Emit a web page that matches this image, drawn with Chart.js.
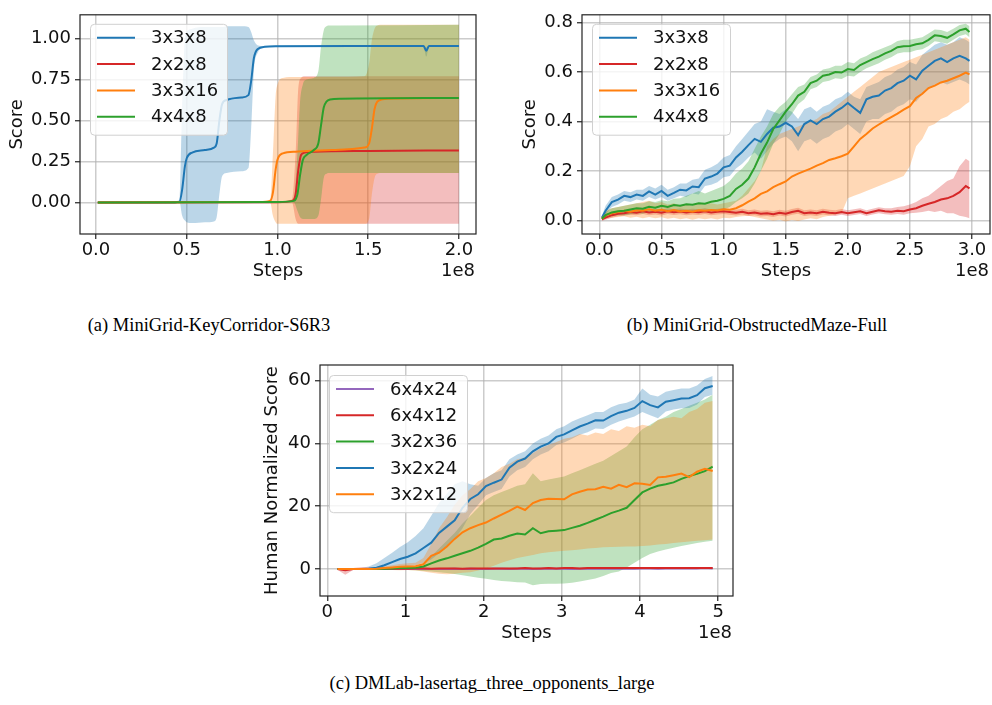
<!DOCTYPE html>
<html>
<head>
<meta charset="utf-8">
<script src="https://cdn.jsdelivr.net/npm/chart.js@4.4.1/dist/chart.umd.min.js"></script>
<style>
  body { margin: 0; background: #fff; width: 992px; height: 705px; position: relative; overflow: hidden; }
  canvas { position: absolute; }
  .cap { position: absolute; font-family: "Liberation Serif", "Times New Roman", serif; font-size: 18.5px;
         color: #000; transform: translateX(-50%); white-space: nowrap; line-height: 20px; }
</style>
</head>
<body>
<canvas id="ca" width="492" height="290" style="left:0;top:0"></canvas>
<canvas id="cb" width="492" height="290" style="left:500px;top:0"></canvas>
<canvas id="cc" width="492" height="310" style="left:250px;top:340px"></canvas>
<div class="cap" style="left:209px;top:315px">(a) MiniGrid-KeyCorridor-S6R3</div>
<div class="cap" style="left:757px;top:315px">(b) MiniGrid-ObstructedMaze-Full</div>
<div class="cap" style="left:492px;top:673px">(c) DMLab-lasertag_three_opponents_large</div>
<script>
"use strict";
// matplotlib tab10 colours
const C_BLUE = "#1f77b4";
const C_ORANGE = "#ff7f0e";
const C_GREEN = "#2ca02c";
const C_RED = "#d62728";
const C_PURPLE = "#9467bd";
const FONT = '"DejaVu Sans", Verdana, sans-serif';

// ---- (a) KeyCorridor-S6R3, steps in 1e8 ----
const A_LABELS = ["3x3x8", "2x2x8", "3x3x16", "4x4x8"];
const A_XTICKS = [0, 0.5, 1, 1.5, 2];
const A_XLABELS = ["0.0", "0.5", "1.0", "1.5", "2.0"];
const A_YTICKS = [0, 0.25, 0.5, 0.75, 1];
const A_YLABELS = ["0.00", "0.25", "0.50", "0.75", "1.00"];

const A_BLUE_X = [0.01, 0.40, 0.46, 0.475, 0.49, 0.50, 0.53, 0.60, 0.65, 0.665, 0.68, 0.695, 0.72, 0.80, 0.84, 0.855, 0.87, 0.89, 0.93, 1.00, 1.50, 1.805, 1.82, 1.835, 2.00];
const A_BLUE = [0, 0, 0.005, 0.08, 0.22, 0.27, 0.305, 0.32, 0.335, 0.36, 0.50, 0.60, 0.625, 0.64, 0.655, 0.74, 0.88, 0.935, 0.95, 0.953, 0.955, 0.955, 0.925, 0.955, 0.955];
const A_BLUE_HI = [0, 0, 0.005, 0.6, 1.0, 1.04, 1.06, 1.07, 1.07, 1.07, 1.07, 1.07, 1.075, 1.075, 1.07, 1.04, 0.99, 0.96, 0.955, 0.957, 0.957, 0.957, 0.945, 0.957, 0.957];
const A_BLUE_LO = [0, 0, 0.005, -0.08, -0.11, -0.12, -0.125, -0.12, -0.115, -0.09, 0.05, 0.16, 0.18, 0.19, 0.21, 0.45, 0.8, 0.91, 0.945, 0.95, 0.953, 0.953, 0.89, 0.953, 0.953];

const A_RED_X = [0.01, 1.00, 1.08, 1.10, 1.115, 1.13, 1.15, 1.20, 1.50, 2.00];
const A_RED = [0, 0.002, 0.01, 0.05, 0.2, 0.29, 0.305, 0.31, 0.315, 0.318];
const A_RED_HI = [0, 0.005, 0.02, 0.3, 0.7, 0.76, 0.77, 0.77, 0.77, 0.77];
const A_RED_LO = [0, 0, 0, -0.1, -0.13, -0.13, -0.13, -0.13, -0.13, -0.13];

const A_ORANGE_X = [0.01, 0.90, 0.96, 0.975, 0.99, 1.00, 1.03, 1.10, 1.30, 1.48, 1.505, 1.52, 1.535, 1.55, 1.58, 1.65, 2.00];
const A_ORANGE = [0, 0.003, 0.01, 0.06, 0.2, 0.26, 0.3, 0.31, 0.32, 0.335, 0.36, 0.45, 0.57, 0.615, 0.63, 0.635, 0.638];
const A_ORANGE_HI = [0, 0.005, 0.02, 0.3, 0.65, 0.72, 0.76, 0.765, 0.765, 0.77, 0.85, 0.99, 1.06, 1.08, 1.085, 1.085, 1.085];
const A_ORANGE_LO = [0, 0, 0, -0.08, -0.12, -0.13, -0.13, -0.13, -0.13, -0.13, -0.1, 0.05, 0.15, 0.175, 0.18, 0.18, 0.18];

const A_GREEN_X = [0.01, 1.00, 1.09, 1.11, 1.125, 1.14, 1.16, 1.20, 1.225, 1.24, 1.255, 1.27, 1.29, 1.35, 2.00];
const A_GREEN = [0, 0.003, 0.01, 0.05, 0.17, 0.26, 0.29, 0.32, 0.36, 0.47, 0.58, 0.615, 0.628, 0.633, 0.638];
const A_GREEN_HI = [0, 0.005, 0.02, 0.3, 0.62, 0.72, 0.75, 0.76, 0.8, 0.95, 1.05, 1.075, 1.08, 1.08, 1.085];
const A_GREEN_LO = [0, 0, 0, -0.05, -0.09, -0.1, -0.1, -0.1, -0.08, 0.02, 0.15, 0.175, 0.18, 0.18, 0.18];

// ---- (b) ObstructedMaze-Full ----
const B_LABELS = ["3x3x8", "2x2x8", "3x3x16", "4x4x8"];
const B_XTICKS = [0, 0.5, 1, 1.5, 2, 2.5, 3];
const B_XLABELS = ["0.0", "0.5", "1.0", "1.5", "2.0", "2.5", "3.0"];
const B_YTICKS = [0, 0.2, 0.4, 0.6, 0.8];
const B_YLABELS = ["0.0", "0.2", "0.4", "0.6", "0.8"];
const B_STEPS = [0.02, 0.05, 0.10, 0.15, 0.20, 0.25, 0.30, 0.35, 0.40, 0.45,
  0.50, 0.55, 0.60, 0.65, 0.70, 0.75, 0.80, 0.85, 0.90, 0.95,
  1.00, 1.05, 1.10, 1.15, 1.20, 1.25, 1.30, 1.35, 1.40, 1.45,
  1.50, 1.55, 1.60, 1.65, 1.70, 1.75, 1.80, 1.85, 1.90, 1.95,
  2.00, 2.05, 2.10, 2.15, 2.20, 2.25, 2.30, 2.35, 2.40, 2.45,
  2.50, 2.55, 2.60, 2.65, 2.70, 2.75, 2.80, 2.85, 2.90, 2.95, 2.98];

const B_BLUE = [0.012, 0.04, 0.075, 0.085, 0.1, 0.095, 0.105, 0.1, 0.118, 0.105,
  0.12, 0.1, 0.112, 0.125, 0.122, 0.138, 0.135, 0.17, 0.178, 0.19,
  0.215, 0.222, 0.255, 0.278, 0.305, 0.33, 0.318, 0.35, 0.375, 0.38,
  0.395, 0.38, 0.345, 0.39, 0.405, 0.39, 0.41, 0.42, 0.44, 0.455,
  0.475, 0.455, 0.435, 0.49, 0.5, 0.505, 0.525, 0.535, 0.555, 0.565,
  0.585, 0.57, 0.605, 0.625, 0.645, 0.655, 0.64, 0.655, 0.665, 0.655, 0.645];
const B_BLUE_HI = [0.02, 0.06, 0.095, 0.105, 0.12, 0.115, 0.125, 0.125, 0.14, 0.13,
  0.145, 0.125, 0.135, 0.15, 0.15, 0.165, 0.17, 0.205, 0.215, 0.23,
  0.255, 0.265, 0.3, 0.33, 0.36, 0.39, 0.4, 0.45, 0.44, 0.43,
  0.45, 0.44, 0.41, 0.45, 0.46, 0.44, 0.46, 0.47, 0.49, 0.5,
  0.52, 0.5, 0.49, 0.54, 0.55, 0.56, 0.58, 0.59, 0.61, 0.62,
  0.64, 0.63, 0.67, 0.69, 0.71, 0.72, 0.71, 0.72, 0.74, 0.73, 0.72];
const B_BLUE_LO = [0.005, 0.025, 0.055, 0.065, 0.08, 0.075, 0.085, 0.08, 0.095, 0.085,
  0.095, 0.08, 0.09, 0.1, 0.095, 0.11, 0.105, 0.14, 0.145, 0.155,
  0.175, 0.18, 0.21, 0.23, 0.255, 0.275, 0.25, 0.28, 0.31, 0.33,
  0.34, 0.32, 0.28, 0.32, 0.33, 0.31, 0.33, 0.34, 0.36, 0.37,
  0.39, 0.37, 0.35, 0.4, 0.41, 0.41, 0.43, 0.44, 0.46, 0.47,
  0.49, 0.48, 0.51, 0.53, 0.55, 0.56, 0.55, 0.56, 0.57, 0.56, 0.55];

const B_RED = [0.005, 0.012, 0.022, 0.028, 0.03, 0.035, 0.032, 0.038, 0.033, 0.036,
  0.032, 0.038, 0.034, 0.037, 0.033, 0.036, 0.034, 0.038, 0.033, 0.036,
  0.038, 0.035, 0.032, 0.036, 0.03, 0.033, 0.028, 0.03, 0.026, 0.032,
  0.028, 0.035, 0.04, 0.03, 0.033, 0.03, 0.036, 0.032, 0.03, 0.035,
  0.03, 0.034, 0.038, 0.03, 0.036, 0.042, 0.038, 0.036, 0.04, 0.038,
  0.045, 0.05, 0.06, 0.068, 0.075, 0.085, 0.09, 0.1, 0.115, 0.14, 0.13];
const B_RED_HI = [0.012, 0.024, 0.034, 0.04, 0.042, 0.047, 0.044, 0.05, 0.045, 0.048,
  0.044, 0.05, 0.046, 0.049, 0.045, 0.048, 0.046, 0.05, 0.045, 0.048,
  0.05, 0.047, 0.044, 0.048, 0.042, 0.045, 0.04, 0.042, 0.038, 0.044,
  0.04, 0.047, 0.052, 0.042, 0.045, 0.042, 0.048, 0.044, 0.042, 0.047,
  0.042, 0.046, 0.05, 0.042, 0.048, 0.054, 0.05, 0.05, 0.055, 0.058,
  0.065, 0.075, 0.09, 0.1, 0.12, 0.14, 0.16, 0.17, 0.22, 0.25, 0.24];
const B_RED_LO = [0.0, 0.004, 0.012, 0.018, 0.02, 0.024, 0.022, 0.027, 0.022, 0.025,
  0.021, 0.027, 0.023, 0.026, 0.022, 0.025, 0.023, 0.027, 0.022, 0.025,
  0.027, 0.024, 0.021, 0.025, 0.019, 0.022, 0.017, 0.019, 0.015, 0.021,
  0.017, 0.024, 0.028, 0.019, 0.022, 0.019, 0.025, 0.021, 0.019, 0.024,
  0.019, 0.023, 0.027, 0.019, 0.025, 0.03, 0.026, 0.024, 0.027, 0.024,
  0.03, 0.032, 0.035, 0.04, 0.035, 0.04, 0.03, 0.03, 0.02, 0.015, 0.01];

const B_ORANGE = [0.008, 0.022, 0.03, 0.035, 0.04, 0.036, 0.042, 0.04, 0.046, 0.04,
  0.044, 0.038, 0.043, 0.037, 0.04, 0.036, 0.042, 0.04, 0.043, 0.041,
  0.046, 0.044, 0.05, 0.062, 0.077, 0.09, 0.108, 0.118, 0.135, 0.147,
  0.158, 0.178, 0.19, 0.2, 0.21, 0.222, 0.232, 0.245, 0.252, 0.26,
  0.27, 0.3, 0.33, 0.35, 0.372, 0.388, 0.404, 0.418, 0.432, 0.448,
  0.462, 0.495, 0.512, 0.535, 0.545, 0.558, 0.565, 0.575, 0.585, 0.598, 0.59];
const B_ORANGE_HI = [0.015, 0.04, 0.05, 0.055, 0.06, 0.065, 0.07, 0.075, 0.08, 0.07,
  0.075, 0.065, 0.07, 0.06, 0.065, 0.06, 0.07, 0.065, 0.07, 0.065,
  0.07, 0.075, 0.08, 0.1, 0.13, 0.16, 0.2, 0.3, 0.33, 0.35,
  0.36, 0.37, 0.38, 0.39, 0.4, 0.41, 0.43, 0.44, 0.46, 0.48,
  0.5, 0.52, 0.54, 0.56, 0.58, 0.6, 0.61, 0.62, 0.63, 0.64,
  0.65, 0.66, 0.67, 0.68, 0.69, 0.7, 0.71, 0.72, 0.73, 0.74, 0.73];
const B_ORANGE_LO = [0.002, 0.008, 0.012, 0.015, 0.018, 0.012, 0.016, 0.01, 0.015, 0.01,
  0.014, 0.008, 0.012, 0.006, 0.01, 0.004, 0.01, 0.006, 0.01, 0.005,
  0.012, 0.01, 0.015, 0.018, 0.02, 0.015, 0.01, 0.005, 0.0, 0.004,
  -0.004, 0.003, -0.002, 0.005, 0.01, 0.006, 0.015, 0.02, 0.025, 0.03,
  0.09, 0.1, 0.11, 0.12, 0.13, 0.14, 0.15, 0.16, 0.17, 0.18,
  0.22, 0.3, 0.33, 0.38, 0.39, 0.41, 0.42, 0.44, 0.45, 0.47, 0.48];

const B_GREEN = [0.008, 0.022, 0.033, 0.038, 0.04, 0.045, 0.05, 0.048, 0.056, 0.052,
  0.06, 0.055, 0.063, 0.06, 0.066, 0.064, 0.07, 0.068, 0.076, 0.08,
  0.088, 0.1, 0.128, 0.145, 0.17, 0.215, 0.27, 0.315, 0.37, 0.405,
  0.44, 0.47, 0.505, 0.52, 0.555, 0.565, 0.585, 0.59, 0.6, 0.598,
  0.612, 0.608, 0.628, 0.64, 0.652, 0.662, 0.675, 0.685, 0.7, 0.704,
  0.705, 0.712, 0.716, 0.73, 0.748, 0.745, 0.738, 0.752, 0.768, 0.775, 0.762];
const B_GREEN_HI = [0.012, 0.035, 0.05, 0.055, 0.06, 0.065, 0.07, 0.07, 0.078, 0.075,
  0.082, 0.078, 0.088, 0.09, 0.1, 0.11, 0.12, 0.11, 0.12, 0.13,
  0.14, 0.16, 0.19, 0.21, 0.24, 0.29, 0.34, 0.38, 0.43, 0.46,
  0.48, 0.51, 0.54, 0.55, 0.58, 0.59, 0.61, 0.615, 0.625, 0.625,
  0.64, 0.635, 0.655, 0.665, 0.68, 0.69, 0.7, 0.71, 0.725, 0.73,
  0.73, 0.735, 0.74, 0.755, 0.772, 0.77, 0.762, 0.775, 0.79, 0.795, 0.785];
const B_GREEN_LO = [0.004, 0.012, 0.018, 0.022, 0.022, 0.026, 0.03, 0.028, 0.035, 0.03,
  0.038, 0.034, 0.04, 0.037, 0.04, 0.036, 0.04, 0.035, 0.04, 0.042,
  0.045, 0.055, 0.075, 0.09, 0.11, 0.15, 0.2, 0.25, 0.31, 0.35,
  0.4, 0.43, 0.47, 0.49, 0.53, 0.54, 0.56, 0.565, 0.575, 0.572,
  0.585, 0.582, 0.6, 0.615, 0.625, 0.635, 0.65, 0.66, 0.675, 0.68,
  0.68, 0.688, 0.692, 0.705, 0.724, 0.72, 0.714, 0.73, 0.745, 0.752, 0.74];

// ---- (c) DMLab lasertag ----
const C_LABELS = ["6x4x24", "6x4x12", "3x2x36", "3x2x24", "3x2x12"];
const C_XTICKS = [0, 1, 2, 3, 4, 5];
const C_XLABELS = ["0", "1", "2", "3", "4", "5"];
const C_YTICKS = [0, 20, 40, 60];
const C_YLABELS = ["0", "20", "40", "60"];
const C_STEPS = [0.13, 0.23, 0.33, 0.43, 0.53, 0.63, 0.73, 0.83, 0.93,
  1.03, 1.13, 1.23, 1.33, 1.43, 1.53, 1.63, 1.73, 1.83, 1.93,
  2.03, 2.13, 2.23, 2.33, 2.43, 2.53, 2.63, 2.73, 2.83, 2.93,
  3.03, 3.13, 3.23, 3.33, 3.43, 3.53, 3.63, 3.73, 3.83, 3.93,
  4.03, 4.13, 4.23, 4.33, 4.43, 4.53, 4.63, 4.73, 4.83, 4.93];

const C_PURPLE_MEAN = [0, 0, 0, 0, 0, 0, 0, 0, 0.1,
  0, 0, 0.1, 0, 0, 0, 0.1, 0, 0.1, 0,
  0, 0.1, 0.1, 0, 0.1, 0.1, 0, 0.1, 0.1, 0.1,
  0.1, 0, 0.1, 0.1, 0.1, 0.2, 0.1, 0.1, 0.2, 0.1,
  0.2, 0.2, 0.1, 0.2, 0.2, 0.2, 0.2, 0.2, 0.3, 0.2];
const C_PURPLE_HI = [0.2, 0.2, 0.2, 0.2, 0.2, 0.2, 0.2, 0.2, 0.3,
  0.2, 0.2, 0.3, 0.2, 0.2, 0.2, 0.3, 0.2, 0.3, 0.2,
  0.2, 0.3, 0.3, 0.2, 0.3, 0.3, 0.2, 0.3, 0.3, 0.3,
  0.3, 0.2, 0.3, 0.3, 0.3, 0.4, 0.3, 0.3, 0.4, 0.3,
  0.4, 0.4, 0.3, 0.4, 0.4, 0.4, 0.4, 0.4, 0.5, 0.4];
const C_PURPLE_LO = [-0.2, -0.2, -0.2, -0.2, -0.2, -0.2, -0.2, -0.2, -0.1,
  -0.2, -0.2, -0.1, -0.2, -0.2, -0.2, -0.1, -0.2, -0.1, -0.2,
  -0.2, -0.1, -0.1, -0.2, -0.1, -0.1, -0.2, -0.1, -0.1, -0.1,
  -0.1, -0.2, -0.1, -0.1, -0.1, 0, -0.1, -0.1, 0, -0.1,
  0, 0, -0.1, 0, 0, 0, 0, 0, 0.1, 0];

const C_RED_MEAN = [0, -0.4, 0, 0.1, 0.1, 0.1, 0.2, 0.1, 0.2,
  0.1, 0.2, 0.2, 0.1, 0.2, 0.2, 0.2, 0.1, 0.2, 0.2,
  0.2, 0.2, 0.2, 0.2, 0.2, 0.3, 0.2, 0.2, 0.3, 0.2,
  0.3, 0.3, 0.2, 0.3, 0.3, 0.3, 0.3, 0.3, 0.3, 0.3,
  0.3, 0.3, 0.3, 0.3, 0.3, 0.3, 0.3, 0.3, 0.3, 0.3];
const C_RED_HI = [0.2, 0, 0.3, 0.3, 0.3, 0.3, 0.4, 0.3, 0.4,
  0.3, 0.4, 0.4, 0.3, 0.4, 0.4, 0.4, 0.3, 0.4, 0.4,
  0.4, 0.4, 0.4, 0.4, 0.4, 0.5, 0.4, 0.4, 0.5, 0.4,
  0.5, 0.5, 0.4, 0.5, 0.5, 0.5, 0.5, 0.5, 0.5, 0.5,
  0.5, 0.5, 0.5, 0.5, 0.5, 0.5, 0.5, 0.5, 0.5, 0.5];
const C_RED_LO = [-0.2, -1.8, -0.3, -0.1, -0.1, -0.1, 0, -0.1, 0,
  -0.1, 0, 0, -0.1, 0, 0, 0, -0.1, 0, 0,
  0, 0, 0, 0, 0, 0.1, 0, 0, 0.1, 0,
  0.1, 0.1, 0, 0.1, 0.1, 0.1, 0.1, 0.1, 0.1, 0.1,
  0.1, 0.1, 0.1, 0.1, 0.1, 0.1, 0.1, 0.1, 0.1, 0.1];

const C_GREEN_MEAN = [0, 0, 0, 0, 0, 0, 0.1, 0.2, 0.3,
  0.3, 0.4, 0.8, 1.8, 2.7, 3.4, 4.2, 5.0, 5.8, 6.8,
  8.0, 9.4, 9.7, 10.6, 11.3, 11.0, 13.0, 11.4, 12.0, 12.2,
  12.4, 13.1, 13.8, 14.7, 15.7, 16.7, 17.8, 18.6, 19.5, 22.0,
  24.4, 25.6, 26.5, 27.0, 27.6, 28.7, 29.6, 30.3, 31.2, 32.6];
const C_GREEN_HI = [0.2, 0.2, 0.2, 0.2, 0.2, 0.2, 0.3, 0.4, 0.5,
  0.6, 0.9, 1.8, 4.0, 6.5, 9.0, 11.5, 14.5, 17.0, 19.5,
  22.0, 23.5, 24.5, 25.5, 26.5, 27.0, 30.5, 28.0, 28.5, 29.0,
  29.5, 30.5, 31.5, 32.5, 33.5, 34.5, 36.0, 37.5, 39.0, 42.0,
  44.5, 46.0, 47.5, 48.5, 50.0, 51.0, 52.0, 53.0, 54.0, 55.5];
const C_GREEN_LO = [-0.2, -0.2, -0.2, -0.2, -0.2, -0.2, -0.1, 0, 0,
  -0.3, -0.4, -0.6, -0.8, -1.0, -1.3, -1.6, -2.0, -2.4, -2.8,
  -3.1, -3.5, -3.8, -4.0, -4.2, -4.3, -5.2, -4.8, -4.7, -4.7,
  -4.6, -4.4, -4.0, -3.5, -3.0, -2.2, -1.3, -0.8, 0.5, 2.0,
  3.5, 4.8, 5.6, 6.2, 6.8, 7.3, 7.8, 8.3, 8.7, 9.0];

const C_BLUE_MEAN = [0, 0, 0, 0, 0.1, 0.4, 1.2, 2.2, 3.2,
  3.9, 5.0, 6.7, 8.4, 11.5, 13.5, 15.5, 19.5, 22.3, 23.8,
  26.4, 27.5, 28.5, 32.3, 34.2, 35.2, 37.5, 39.0, 40.0, 42.1,
  42.9, 44.2, 45.4, 46.3, 47.4, 47.3, 48.7, 49.8, 50.4, 51.3,
  53.5, 52.2, 51.5, 53.3, 53.8, 54.3, 54.4, 55.4, 57.6, 58.3];
const C_BLUE_HI = [0.3, 0.3, 0.3, 0.3, 0.8, 1.8, 3.5, 5.2, 7.0,
  8.5, 10.5, 13.0, 17.0, 21.0, 24.0, 27.0, 28.0, 27.0, 26.5,
  29.0, 30.5, 31.5, 35.0, 36.5, 37.5, 40.0, 41.5, 42.5, 44.5,
  45.5, 47.0, 48.0, 49.0, 50.0, 50.0, 51.5, 52.5, 53.0, 54.0,
  57.5, 55.5, 55.0, 56.5, 57.0, 57.5, 57.5, 58.5, 60.5, 61.5];
const C_BLUE_LO = [-0.3, -0.3, -0.3, -0.3, -0.3, -0.2, 0, 0.3, 0.6,
  0.8, 1.2, 2.0, 3.0, 5.0, 7.0, 9.5, 13.0, 17.5, 20.5,
  23.5, 24.5, 25.5, 29.5, 31.5, 32.5, 35.0, 36.5, 37.5, 39.5,
  40.3, 41.5, 42.8, 43.6, 44.8, 44.6, 46.0, 47.0, 47.8, 48.6,
  50.0, 49.0, 48.0, 50.2, 50.8, 51.2, 51.3, 52.4, 54.8, 55.5];

const C_ORANGE_MEAN = [0, 0, 0, 0, 0, 0.1, 0.3, 0.5, 0.7,
  0.8, 0.9, 1.5, 4.2, 5.2, 7.2, 9.6, 11.7, 13.0, 14.0,
  14.8, 16.1, 17.3, 18.5, 19.9, 18.8, 21.0, 22.0, 22.4, 22.3,
  22.2, 23.8, 24.6, 25.3, 25.4, 26.2, 25.6, 26.8, 26.1, 27.3,
  27.2, 26.8, 29.2, 29.4, 29.9, 30.4, 29.3, 31.0, 31.9, 31.2];
const C_ORANGE_HI = [0.2, 0.2, 0.2, 0.2, 0.2, 0.4, 0.8, 1.2, 1.6,
  1.8, 2.0, 3.5, 8.0, 13.0, 16.5, 20.5, 23.5, 25.5, 28.0,
  29.0, 30.5, 32.5, 33.5, 35.0, 35.5, 37.0, 38.5, 39.5, 40.5,
  41.5, 42.0, 43.0, 42.5, 43.5, 43.0, 44.5, 44.0, 45.5, 45.0,
  46.0, 45.5, 47.5, 48.0, 48.5, 48.0, 50.0, 51.0, 53.0, 53.5];
const C_ORANGE_LO = [-0.2, -0.2, -0.2, -0.2, -0.2, -0.2, -0.2, -0.3, -0.4,
  -0.3, -0.5, -0.8, -1.2, -1.5, -1.7, -1.5, -1.2, -1.0, -0.5,
  0.2, 1.0, 2.0, 2.8, 3.5, 4.0, 4.5, 5.0, 5.3, 5.6,
  5.8, 6.0, 6.2, 6.5, 6.7, 6.9, 7.0, 7.1, 7.2, 7.2,
  7.3, 7.5, 7.8, 8.0, 8.3, 8.5, 8.8, 9.0, 9.2, 9.4];

function rgba(hex, a) {
  const n = parseInt(hex.slice(1), 16);
  return `rgba(${(n >> 16) & 255},${(n >> 8) & 255},${n & 255},${a})`;
}

function pts(xs, ys) {
  return xs.map((x, i) => ({ x, y: ys[i] }));
}

// all shaded bands first (lower edge + upper edge filled to it), mean lines on top
function buildDatasets(series, smooth) {
  const common = { pointRadius: 0, cubicInterpolationMode: smooth ? "monotone" : "default", tension: 0 };
  const bands = [];
  const lines = [];
  series.forEach((s) => {
    bands.push({ ...common, label: s.label + " lo", data: pts(s.x, s.lo),
      borderColor: "rgba(0,0,0,0)", borderWidth: 0, fill: false });
    bands.push({ ...common, label: s.label + " hi", data: pts(s.x, s.hi),
      borderColor: "rgba(0,0,0,0)", borderWidth: 0, backgroundColor: rgba(s.color, 0.3), fill: "-1" });
    lines.push({ ...common, label: s.label, data: pts(s.x, s.mean),
      borderColor: s.color, borderWidth: 2, fill: false });
  });
  // lower order is drawn later (on top)
  return bands.concat(lines).map((d, i) => ({ ...d, order: -i }));
}

// axes box, offset text and matplotlib-like legend
const framePlugin = {
  id: "frame",
  afterDraw(chart, args, opts) {
    const { ctx, chartArea: ca } = chart;
    ctx.save();
    ctx.strokeStyle = "#222";
    ctx.lineWidth = 1.2;
    ctx.strokeRect(ca.left, ca.top, ca.right - ca.left, ca.bottom - ca.top);

    ctx.fillStyle = "#111";
    ctx.font = "18px " + FONT;
    ctx.textAlign = "right";
    ctx.textBaseline = "middle";
    ctx.fillText("1e8", ca.right - 1, ca.bottom + 37);

    const lg = opts.legend;
    const bx = ca.left + lg.dx, by = ca.top + lg.dy;
    const bh = 32 + (lg.labels.length - 1) * 26.3;
    ctx.beginPath();
    ctx.roundRect(bx + 0.5, by + 0.5, lg.w, bh, 4);
    ctx.fillStyle = "rgba(255,255,255,0.8)";
    ctx.fill();
    ctx.strokeStyle = "#d0d0d0";
    ctx.lineWidth = 1;
    ctx.stroke();
    ctx.textAlign = "left";
    lg.labels.forEach((t, i) => {
      const yy = by + 14 + i * 26.3;
      ctx.strokeStyle = lg.colors[i];
      ctx.lineWidth = 2;
      ctx.beginPath();
      ctx.moveTo(bx + 7, yy);
      ctx.lineTo(bx + 45, yy);
      ctx.stroke();
      ctx.fillStyle = "#111";
      ctx.fillText(t, bx + 61, yy + 1);
    });
    ctx.restore();
  },
};

function axis(cfg, key) {
  const isX = key === "x";
  const ticksV = isX ? cfg.xTicks : cfg.yTicks;
  const labels = isX ? cfg.xLabels : cfg.yLabels;
  return {
    type: "linear",
    min: isX ? cfg.xMin : cfg.yMin,
    max: isX ? cfg.xMax : cfg.yMax,
    afterBuildTicks: (sc) => { sc.ticks = ticksV.map((v) => ({ value: v })); },
    afterFit: (sc) => { if (isX) sc.height = cfg.xAxisH; else sc.width = cfg.yAxisW; },
    ticks: {
      autoSkip: false, maxRotation: 0, color: "#111", padding: isX ? 1 : 4,
      font: { family: FONT, size: 18 },
      callback: (v, i) => labels[i],
    },
    grid: { color: "rgba(176,176,176,0.65)", lineWidth: 1.5, tickColor: "#222", tickLength: 5, tickWidth: 1.2 },
    border: { display: false },
    title: {
      display: true, text: isX ? "Steps" : cfg.yTitle, color: "#111",
      font: { family: FONT, size: 18 },
      padding: isX ? { top: 0, bottom: cfg.xTitlePad } : { top: cfg.yTitlePad, bottom: 0 },
    },
  };
}

function makeChart(id, cfg) {
  return new Chart(document.getElementById(id), {
    type: "line",
    data: { datasets: buildDatasets(cfg.series, cfg.smooth) },
    options: {
      responsive: false,
      animation: false,
      events: [],
      layout: { padding: cfg.pad },
      plugins: {
        legend: { display: false },
        tooltip: { enabled: false },
        frame: { legend: cfg.legend },
      },
      scales: { x: axis(cfg, "x"), y: axis(cfg, "y") },
    },
    plugins: [framePlugin],
  });
}

makeChart("ca", {
  smooth: true,
  pad: { top: 4, right: 16, left: 0, bottom: 0 },
  yAxisW: 80, xAxisH: 56, xTitlePad: 8.2, yTitlePad: 6.2,
  xMin: -0.088, xMax: 2.094, yMin: -0.192, yMax: 1.145,
  xTicks: A_XTICKS, xLabels: A_XLABELS, yTicks: A_YTICKS, yLabels: A_YLABELS,
  yTitle: "Score",
  legend: { dx: 10, dy: 9, w: 137, labels: A_LABELS, colors: [C_BLUE, C_RED, C_ORANGE, C_GREEN] },
  series: [
    { label: A_LABELS[0], color: C_BLUE, x: A_BLUE_X, mean: A_BLUE, hi: A_BLUE_HI, lo: A_BLUE_LO },
    { label: A_LABELS[1], color: C_RED, x: A_RED_X, mean: A_RED, hi: A_RED_HI, lo: A_RED_LO },
    { label: A_LABELS[2], color: C_ORANGE, x: A_ORANGE_X, mean: A_ORANGE, hi: A_ORANGE_HI, lo: A_ORANGE_LO },
    { label: A_LABELS[3], color: C_GREEN, x: A_GREEN_X, mean: A_GREEN, hi: A_GREEN_HI, lo: A_GREEN_LO },
  ],
});

makeChart("cb", {
  smooth: false,
  pad: { top: 4, right: 2, left: 0, bottom: 0 },
  yAxisW: 82, xAxisH: 56, xTitlePad: 8.2, yTitlePad: 19.2,
  xMin: -0.14, xMax: 3.145, yMin: -0.054, yMax: 0.831,
  xTicks: B_XTICKS, xLabels: B_XLABELS, yTicks: B_YTICKS, yLabels: B_YLABELS,
  yTitle: "Score",
  legend: { dx: 10, dy: 9, w: 138, labels: B_LABELS, colors: [C_BLUE, C_RED, C_ORANGE, C_GREEN] },
  series: [
    { label: B_LABELS[0], color: C_BLUE, x: B_STEPS, mean: B_BLUE, hi: B_BLUE_HI, lo: B_BLUE_LO },
    { label: B_LABELS[1], color: C_RED, x: B_STEPS, mean: B_RED, hi: B_RED_HI, lo: B_RED_LO },
    { label: B_LABELS[2], color: C_ORANGE, x: B_STEPS, mean: B_ORANGE, hi: B_ORANGE_HI, lo: B_ORANGE_LO },
    { label: B_LABELS[3], color: C_GREEN, x: B_STEPS, mean: B_GREEN, hi: B_GREEN_HI, lo: B_GREEN_LO },
  ],
});

makeChart("cc", {
  smooth: false,
  pad: { top: 25, right: 9, left: 0, bottom: 0 },
  yAxisW: 70, xAxisH: 54, xTitlePad: 6.2, yTitlePad: 11.2,
  xMin: -0.093, xMax: 5.19, yMin: -8.6, yMax: 65,
  xTicks: C_XTICKS, xLabels: C_XLABELS, yTicks: C_YTICKS, yLabels: C_YLABELS,
  yTitle: "Human Normalized Score",
  legend: { dx: 9, dy: 10, w: 138, labels: C_LABELS, colors: [C_PURPLE, C_RED, C_GREEN, C_BLUE, C_ORANGE] },
  series: [
    { label: C_LABELS[0], color: C_PURPLE, x: C_STEPS, mean: C_PURPLE_MEAN, hi: C_PURPLE_HI, lo: C_PURPLE_LO },
    { label: C_LABELS[1], color: C_RED, x: C_STEPS, mean: C_RED_MEAN, hi: C_RED_HI, lo: C_RED_LO },
    { label: C_LABELS[2], color: C_GREEN, x: C_STEPS, mean: C_GREEN_MEAN, hi: C_GREEN_HI, lo: C_GREEN_LO },
    { label: C_LABELS[3], color: C_BLUE, x: C_STEPS, mean: C_BLUE_MEAN, hi: C_BLUE_HI, lo: C_BLUE_LO },
    { label: C_LABELS[4], color: C_ORANGE, x: C_STEPS, mean: C_ORANGE_MEAN, hi: C_ORANGE_HI, lo: C_ORANGE_LO },
  ],
});
</script>
</body>
</html>
